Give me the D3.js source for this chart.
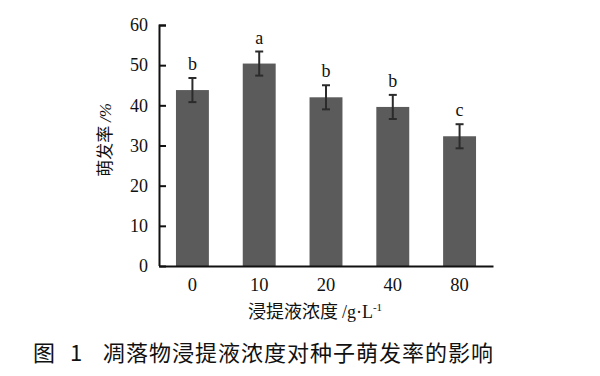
<!DOCTYPE html>
<html>
<head>
<meta charset="utf-8">
<script src="https://cdn.jsdelivr.net/npm/d3@7"></script>
<style>
  body { margin: 0; background: #fff; }
  text { fill: #111; }
</style>
</head>
<body>
<div id="chart"></div>
<script>
const concentrations = ["0", "10", "20", "40", "80"];
const germination = [43.8, 50.4, 42.0, 39.6, 32.3];
const errors = [3.0, 3.0, 3.0, 3.0, 3.0];
const letters = ["b", "a", "b", "b", "c"];
const yTicks = [0, 10, 20, 30, 40, 50, 60];

const svgWidth = 600;
const svgHeight = 376;
const margin = { top: 25, right: 107, bottom: 110, left: 159 };
const width = svgWidth - margin.left - margin.right;
const height = svgHeight - margin.top - margin.bottom;

const svg = d3
  .select("#chart")
  .append("svg")
  .attr("width", svgWidth)
  .attr("height", svgHeight);

const g = svg.append("g")
  .attr("transform", `translate(${margin.left},${margin.top})`);

const data = concentrations.map((c, i) => ({
  c, v: germination[i], e: errors[i], l: letters[i]
}));

const x = d3.scaleBand()
  .domain(concentrations)
  .range([0, width])
  .paddingInner(0.507)
  .paddingOuter(0.254);

const y = d3.scaleLinear()
  .domain([0, 60])
  .range([height, 0]);

const serif = "'Liberation Serif', 'Times New Roman', serif";
const cjk = "'Noto Sans CJK SC', sans-serif";

// bars
g.selectAll(".bar")
  .data(data)
  .join("rect")
  .attr("x", d => x(d.c))
  .attr("y", d => y(d.v))
  .attr("width", x.bandwidth())
  .attr("height", d => y(0) - y(d.v))
  .style("fill", "#5b5b5b");

// error bars
const eb = g.selectAll(".err")
  .data(data)
  .join("g")
  .attr("transform", d => `translate(${x(d.c) + x.bandwidth() / 2},0)`)
  .style("stroke", "#2b2b2b")
  .style("stroke-width", 2);

eb.append("line")
  .attr("y1", d => y(d.v + d.e))
  .attr("y2", d => y(d.v - d.e));
eb.append("line")
  .attr("x1", -4).attr("x2", 4)
  .attr("y1", d => y(d.v + d.e)).attr("y2", d => y(d.v + d.e));
eb.append("line")
  .attr("x1", -4).attr("x2", 4)
  .attr("y1", d => y(d.v - d.e)).attr("y2", d => y(d.v - d.e));

// significance letters
g.selectAll(".sig")
  .data(data)
  .join("text")
  .attr("x", d => x(d.c) + x.bandwidth() / 2)
  .attr("y", d => y(d.v + d.e) - 8)
  .attr("text-anchor", "middle")
  .style("font-family", serif)
  .style("font-size", "18px")
  .text(d => d.l);

// y axis (ticks inward)
const yAxis = g.append("g")
  .call(d3.axisRight(y).tickValues(yTicks).tickSize(7).tickFormat(d3.format("d")));
yAxis.select(".domain").attr("d", `M7,0.5H0.5V${height}`).style("stroke-width", 2).style("stroke", "#111");
yAxis.selectAll(".tick line").style("stroke-width", 2).style("stroke", "#111");
yAxis.selectAll(".tick text")
  .attr("x", -11)
  .attr("text-anchor", "end")
  .style("font-family", serif)
  .style("font-size", "18px");

// x axis
const xAxis = g.append("g")
  .attr("transform", `translate(0,${height})`)
  .call(d3.axisBottom(x).tickSize(0).tickPadding(12));
xAxis.select(".domain").style("stroke-width", 2).style("stroke", "#111");
xAxis.selectAll(".tick text")
  .style("font-family", serif)
  .style("font-size", "18.5px");

// y label
svg.append("text")
  .attr("transform", "translate(111,140) rotate(-90)")
  .attr("text-anchor", "middle")
  .style("font-size", "17px")
  .style("font-family", cjk)
  .text("萌发率 ")
  .append("tspan")
  .style("font-family", serif)
  .style("font-style", "italic")
  .text("/%");

// x label
const xl = svg.append("text")
  .attr("x", 315)
  .attr("y", 318)
  .attr("text-anchor", "middle")
  .style("font-size", "18px")
  .style("font-family", cjk)
  .text("浸提液浓度 ");
xl.append("tspan").style("font-family", serif).text("/g·L");
xl.append("tspan").style("font-family", serif).style("font-size", "11px")
  .attr("dy", -7).text("-1");

// caption
svg.append("text")
  .attr("x", 33)
  .attr("y", 361)
  .style("font-size", "22px")
  .style("font-family", cjk)
  .style("letter-spacing", "5px")
  .text("图 1");
svg.append("text")
  .attr("x", 103)
  .attr("y", 361)
  .style("font-size", "22px")
  .style("font-family", cjk)
  .style("letter-spacing", "1px")
  .text("凋落物浸提液浓度对种子萌发率的影响");
</script>
</body>
</html>
